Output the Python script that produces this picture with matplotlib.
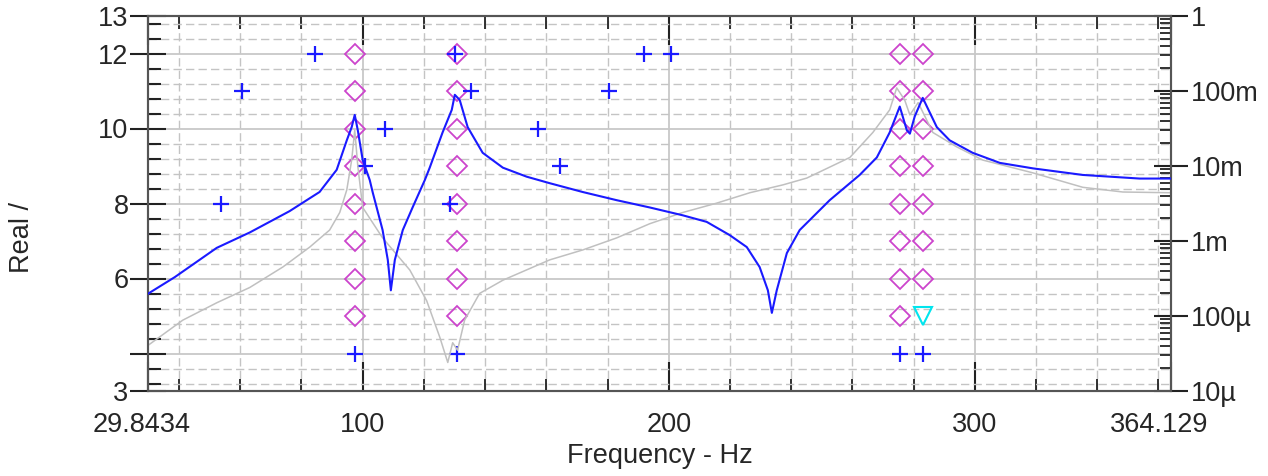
import matplotlib
matplotlib.use("Agg")
import matplotlib.pyplot as plt
from matplotlib.ticker import FixedLocator, FixedFormatter, LogLocator, NullFormatter
from matplotlib.transforms import ScaledTranslation
import numpy as np

plt.rcParams['font.family'] = ['Liberation Sans', 'DejaVu Sans']

# FRF magnitude (right log axis), frequency in Hz
blue_f = [30.0, 38.6, 52.3, 63.1, 76.1, 81.7, 85.9, 91.5, 94.8, 96.4, 97.4, 98.4,
          100.0, 102.3, 103.3, 106.5, 108.2, 109.2, 110.5, 113.1, 116.3, 120.3,
          121.9, 126.1, 129.1, 130.1, 131.7, 134.3, 139.2, 145.8, 153.6, 161.1,
          171.9, 183.0, 193.8, 204.6, 212.4, 219.9, 225.5, 229.7, 232.4, 233.7,
          235.3, 238.6, 242.8, 252.6, 262.4, 268.0, 272.2, 275.5, 277.8, 278.8,
          280.4, 283.0, 287.6, 291.8, 299.3, 308.2, 319.0, 335.3, 353.9, 364.1]
blue_mag = [2.0e-4, 3.3e-4, 8.1e-4, 1.3e-3, 2.5e-3, 3.5e-3, 4.5e-3, 8.9e-3, 2.2e-2, 3.3e-2, 4.8e-2, 3.0e-2,
            1.2e-2, 6.5e-3, 4.4e-3, 1.4e-3, 5.6e-4, 2.2e-4, 5.6e-4, 1.4e-3, 2.8e-3, 6.5e-3,
            9.5e-3, 2.8e-2, 5.6e-2, 8.9e-2, 7.6e-2, 3.3e-2, 1.5e-2, 9.5e-3, 7.2e-3, 5.9e-3,
            4.5e-3, 3.5e-3, 2.8e-3, 2.2e-3, 1.8e-3, 1.2e-3, 8.3e-4, 4.5e-4, 2.2e-4, 1.1e-4,
            2.2e-4, 6.9e-4, 1.4e-3, 3.5e-3, 7.6e-3, 1.3e-2, 2.8e-2, 6.2e-2, 3.0e-2, 2.7e-2,
            4.6e-2, 8.1e-2, 3.3e-2, 2.2e-2, 1.5e-2, 1.1e-2, 9.3e-3, 7.6e-3, 6.8e-3, 6.8e-3]

gray_f = [30.0, 41.2, 52.3, 63.1, 73.9, 82.7, 89.2, 92.5, 94.8, 96.4, 97.4, 98.4,
          100.0, 106.5, 115.4, 120.9, 125.2, 127.8, 129.4, 131.0, 133.3, 138.2,
          145.8, 161.1, 171.9, 183.0, 193.8, 204.6, 215.7, 226.5, 237.3, 245.1,
          259.2, 266.7, 272.2, 274.5, 277.1, 278.8, 281.5, 286.3, 294.1, 302.6,
          319.0, 335.3, 348.4, 364.1]
gray_mag = [4.1e-5, 8.8e-5, 1.5e-4, 2.4e-4, 4.5e-4, 8.3e-4, 1.4e-3, 2.4e-3, 4.8e-3, 1.2e-2, 3.0e-2, 1.0e-2,
            2.8e-3, 1.1e-3, 4.1e-4, 1.6e-4, 5.2e-5, 2.4e-5, 4.4e-5, 3.5e-5, 8.8e-5, 2.0e-4,
            3.0e-4, 5.6e-4, 7.6e-4, 1.1e-3, 1.7e-3, 2.4e-3, 3.2e-3, 4.4e-3, 5.6e-3, 6.9e-3,
            1.3e-2, 2.8e-2, 5.6e-2, 1.1e-1, 7.6e-2, 4.8e-2, 7.0e-2, 2.8e-2, 1.8e-2, 1.2e-2,
            8.1e-3, 5.2e-3, 4.5e-3, 4.4e-3]

# stability markers (left axis: model order)
stable_f = [97.4, 97.4, 97.4, 97.4, 97.4, 97.4, 97.4, 97.4,
            130.8, 130.8, 130.8, 130.8, 130.8, 130.8, 130.8, 130.8,
            275.6, 275.6, 275.6, 275.6, 275.6, 275.6, 275.6, 275.6,
            283.1, 283.1, 283.1, 283.1, 283.1, 283.1, 283.1]
stable_n = [5, 6, 7, 8, 9, 10, 11, 12,
            5, 6, 7, 8, 9, 10, 11, 12,
            5, 6, 7, 8, 9, 10, 11, 12,
            6, 7, 8, 9, 10, 11, 12]
new_f = [53.8, 60.6, 84.5, 97.4, 100.7, 107.2, 130.3, 135.5, 128.4, 130.8,
         157.3, 164.4, 180.5, 191.8, 200.6, 275.6, 283.1]
new_n = [8, 11, 12, 4, 9, 10, 12, 11, 8, 4, 10, 9, 11, 12, 12, 4, 4]
damp_f = [283.1]
damp_n = [5]

x_ticks = [29.8434, 100, 200, 300, 364.129]
x_labels = ['29.8434', '100', '200', '300', '364.129']
y_ticks = [3, 4, 6, 8, 10, 12, 13]
y_labels = ['3', '', '6', '8', '10', '12', '13']
r_ticks = [1, 0.1, 0.01, 1e-3, 1e-4, 1e-5]
r_labels = ['1', '100m', '10m', '1m', '100\u00b5', '10\u00b5']

fig = plt.figure(figsize=(12.68, 4.76), dpi=100)
ax = fig.add_axes([148 / 1268, 1 - 391 / 476, (1171 - 148) / 1268, (391 - 16) / 476])
ax.set_xlim(29.8434, 364.129)
ax.set_ylim(3, 13)

txt = '#262626'
fs = 19.5

ax.xaxis.set_major_locator(FixedLocator(x_ticks))
ax.xaxis.set_major_formatter(FixedFormatter(x_labels))
ax.xaxis.set_minor_locator(FixedLocator([40, 60, 80, 120, 140, 160, 180, 220, 240, 260,
                                         280, 320, 340, 360]))
ax.yaxis.set_major_locator(FixedLocator(y_ticks))
ax.yaxis.set_major_formatter(FixedFormatter(y_labels))
ymin = [v for v in np.round(np.arange(3.2, 13.0, 0.4), 1) if abs(v - round(v)) > 0.01]
ax.yaxis.set_minor_locator(FixedLocator(ymin))

ax.grid(which='major', color='#c8c8c8', lw=1.3, ls='-', zorder=0)
ax.grid(which='minor', color='#c4c4c4', lw=1.0, ls=(0, (6, 3)), zorder=0)
ax.set_axisbelow(True)

ax.tick_params(axis='x', which='major', direction='in', length=21, width=1.5,
               top=True, bottom=True, colors='#222222', labelcolor=txt, labelsize=fs, pad=15)
ax.tick_params(axis='x', which='minor', direction='in', length=9, width=1.3,
               top=True, bottom=True, colors='#222222')
ax.tick_params(axis='y', which='major', direction='inout', length=26, width=1.5,
               left=True, right=False, colors='#222222', labelcolor=txt, labelsize=fs, pad=1)
ax.tick_params(axis='y', which='minor', direction='in', length=9, width=1.5,
               left=True, right=False, colors='#222222')

# end labels sit a little inward in the original
xl = ax.get_xticklabels()
xl[0].set_transform(xl[0].get_transform() + ScaledTranslation(-6 / 100, 0, fig.dpi_scale_trans))
xl[-1].set_transform(xl[-1].get_transform() + ScaledTranslation(-12 / 100, 0, fig.dpi_scale_trans))

for s in ax.spines.values():
    s.set_color('#555555')
    s.set_linewidth(1.5)

ax.plot(stable_f, stable_n, ls='none', marker='D', ms=10, mfc='none', mec='#cc44cc',
        mew=1.3, zorder=3)
ax.plot(new_f, new_n, ls='none', marker='+', ms=12, mec='#1a1aff', mew=1.6, zorder=3)
ax.plot(damp_f, damp_n, ls='none', marker='v', ms=13, mfc='none', mec='#00e5ee',
        mew=1.5, zorder=3)

ax2 = ax.twinx()
ax2.set_yscale('log')
ax2.set_ylim(1e-5, 1)
ax2.plot(gray_f, gray_mag, color='#c0c0c0', lw=1.1, zorder=2)
ax2.plot(blue_f, blue_mag, color='#1a1aff', lw=1.5, zorder=3)
ax2.yaxis.set_major_locator(FixedLocator(r_ticks))
ax2.yaxis.set_major_formatter(FixedFormatter(r_labels))
ax2.yaxis.set_minor_locator(LogLocator(base=10, subs=np.arange(2, 10)))
ax2.yaxis.set_minor_formatter(NullFormatter())
ax2.tick_params(axis='y', which='major', direction='inout', length=24, width=1.5,
                colors='#222222', labelcolor=txt, labelsize=fs, pad=2)
ax2.tick_params(axis='y', which='minor', direction='in', length=8, width=1.3,
                colors='#222222')
for s in ax2.spines.values():
    s.set_color('#555555')
    s.set_linewidth(1.5)

ax.set_xlabel('Frequency - Hz', fontsize=fs, color=txt, labelpad=4)
ax.set_ylabel('Real /', fontsize=fs, color=txt)
ax.yaxis.set_label_coords(-0.110, 0.41)

fig.savefig('out.png', dpi=100)
